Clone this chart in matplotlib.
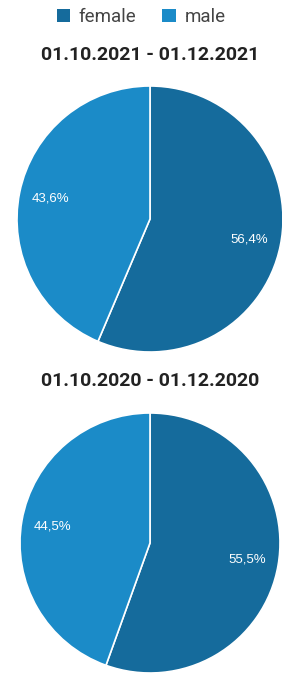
import matplotlib
matplotlib.use('Agg')
import matplotlib.pyplot as plt
from matplotlib.patches import Patch

# Datos
categorias = ['female', 'male']
colores = ['#156b9c', '#1b8bc8']
periodos = ['01.10.2021 - 01.12.2021', '01.10.2020 - 01.12.2020']
valores_2021 = [56.4, 43.6]
valores_2020 = [55.5, 44.5]
etiquetas_2021 = ['56,4%', '43,6%']
etiquetas_2020 = ['55,5%', '44,5%']

W, H = 282, 680
fig = plt.figure(figsize=(W/100, H/100), dpi=100)
fig.patch.set_facecolor('white')


def caja(x0, y0, x1, y1):
    # pixeles -> fraccion de figura
    return [x0/W, 1 - y1/H, (x1 - x0)/W, (y1 - y0)/H]


def torta(rect, valores, etiquetas, titulo, y_titulo):
    ax = fig.add_axes(rect)
    wedges, textos = ax.pie(valores, colors=colores, startangle=90, counterclock=False,
                            labels=etiquetas, labeldistance=0.76,
                            wedgeprops=dict(edgecolor='white', linewidth=1.2))
    for t in textos:
        t.set_color('white')
        t.set_fontsize(9.5)
        t.set_family('Liberation Sans')
        t.set_ha('center')
    ax.set_xlim(-1, 1)
    ax.set_ylim(-1, 1)
    ax.set_aspect('equal')
    ax.axis('off')
    fig.text(150/W, 1 - y_titulo/H, titulo, ha='center', va='center',
             fontsize=14, fontweight='bold', family='Roboto', color='#222222')
    return ax


torta(caja(17, 86, 283, 352), valores_2021, etiquetas_2021, periodos[0], 55)
torta(caja(20, 413, 280, 673), valores_2020, etiquetas_2020, periodos[1], 381)

handles = [Patch(facecolor=c, edgecolor='none') for c in colores]
leg = fig.legend(handles, categorias, loc='center', bbox_to_anchor=(0.5, 1 - 17/H), ncol=2,
                 frameon=False, prop={'family': 'Roboto', 'size': 13.5},
                 handlelength=0.72, handleheight=0.72, handletextpad=0.45,
                 columnspacing=1.4, borderaxespad=0, borderpad=0)
for t in leg.get_texts():
    t.set_color('#444444')

fig.savefig('out.png', dpi=100, facecolor='white')
